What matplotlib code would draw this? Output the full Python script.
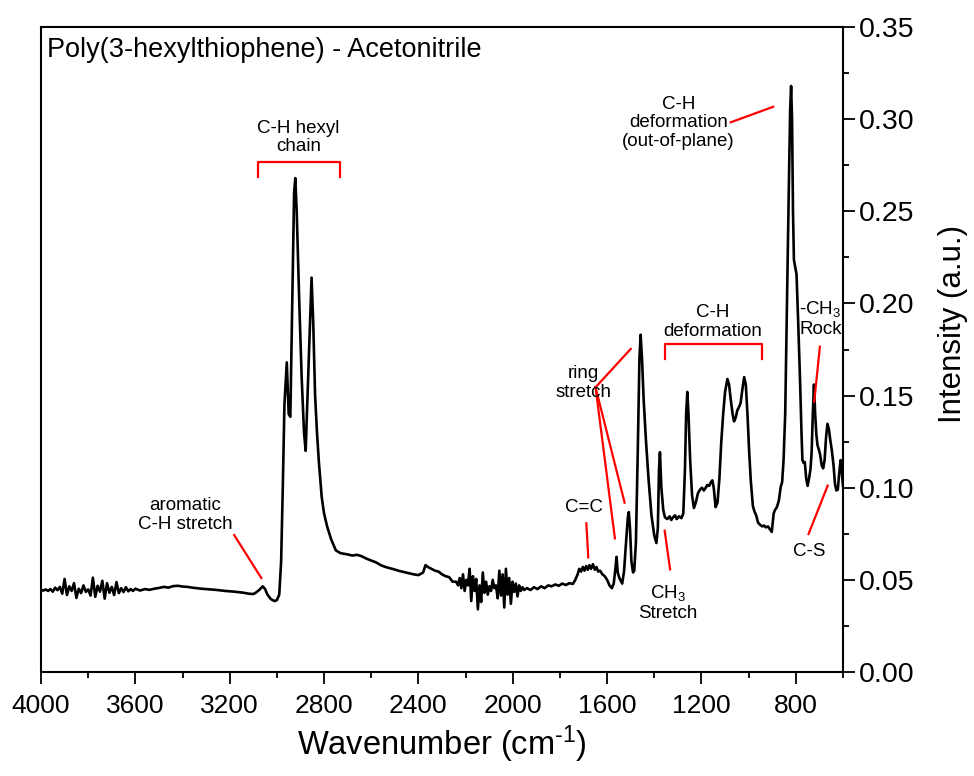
import matplotlib.pyplot as plt
from matplotlib.ticker import MultipleLocator

# FTIR spectrum of P3HT in acetonitrile
wavenumber = [
    4000, 3990, 3980, 3970, 3960, 3950, 3940, 3930, 3920, 3910,
    3900, 3890, 3880, 3870, 3860, 3850, 3840, 3830, 3820, 3810,
    3800, 3790, 3780, 3770, 3760, 3750, 3740, 3730, 3720, 3710,
    3700, 3690, 3680, 3670, 3660, 3650, 3640, 3630, 3620, 3610,
    3600, 3580, 3560, 3540, 3520, 3500, 3480, 3460, 3440, 3420,
    3400, 3380, 3360, 3340, 3320, 3300, 3280, 3260, 3240, 3220,
    3200, 3180, 3160, 3140, 3120, 3100, 3090, 3075, 3060, 3050,
    3040, 3025, 3010, 3000, 2990, 2982, 2975, 2968, 2958, 2950,
    2943, 2935, 2927, 2922, 2916, 2905, 2895, 2885, 2878, 2870,
    2862, 2853, 2846, 2838, 2830, 2822, 2810, 2800, 2787, 2770,
    2750, 2730, 2700, 2680, 2660, 2640, 2620, 2600, 2580, 2560,
    2540, 2520, 2500, 2480, 2460, 2440, 2420, 2400, 2380, 2370,
    2360, 2345, 2330, 2315, 2300, 2285, 2270, 2255,
    2240, 2232, 2225, 2218, 2211, 2204, 2197, 2190, 2183, 2176,
    2169, 2162, 2155, 2148, 2141, 2134, 2127, 2120, 2113, 2106,
    2099, 2092, 2085, 2078, 2071, 2064, 2057, 2050, 2043, 2036,
    2029, 2022, 2015, 2008, 2001, 1994, 1987, 1980, 1973, 1966,
    1959, 1952, 1940, 1925, 1910, 1895, 1880, 1865, 1850, 1835,
    1820, 1805, 1790, 1775, 1760, 1745, 1735, 1725, 1718, 1710,
    1703, 1696, 1689, 1682, 1675, 1668, 1660, 1652, 1645, 1638,
    1630, 1620, 1610, 1600, 1590, 1580, 1572, 1565, 1560, 1555,
    1548, 1540, 1536, 1528, 1520, 1512, 1508, 1503, 1497, 1490,
    1485, 1478, 1470, 1463, 1458, 1452, 1445, 1435, 1424, 1412,
    1400, 1391, 1385, 1380, 1376, 1370, 1362, 1355, 1345, 1335,
    1328, 1320, 1312, 1305, 1295, 1285, 1277, 1270, 1265, 1260,
    1255, 1248, 1240, 1232, 1224, 1215, 1206, 1198, 1190, 1182,
    1175, 1167, 1160, 1154, 1148, 1140, 1132, 1124, 1116, 1108,
    1100, 1090, 1083, 1076, 1068, 1062, 1055, 1048, 1040, 1034,
    1027, 1019, 1012, 1005, 998, 991, 982, 975, 968, 960,
    950, 942, 935, 927, 918, 910, 902, 894, 888, 880,
    872, 864, 858, 852, 845, 838, 830, 824, 820, 816,
    812, 808, 803, 797, 790, 782, 776, 772, 767, 762,
    756, 750, 744, 738, 733, 728, 723, 718, 713, 708,
    703, 697, 690, 684, 678, 672, 666, 660, 654, 647,
    640, 634, 628, 622, 616, 610, 606, 600,
]

intensity = [
    0.0445, 0.0442, 0.0448, 0.0440, 0.0450, 0.0436, 0.0458, 0.0444, 0.0462, 0.0425,
    0.0505, 0.0418, 0.0465, 0.0440, 0.0482, 0.0402, 0.0452, 0.0428, 0.0470, 0.0435,
    0.0448, 0.0415, 0.0512, 0.0408, 0.0468, 0.0436, 0.0495, 0.0398, 0.0482, 0.0430,
    0.0462, 0.0418, 0.0488, 0.0428, 0.0455, 0.0434, 0.0460, 0.0438, 0.0450, 0.0440,
    0.0452, 0.0442, 0.0450, 0.0446, 0.0452, 0.0456, 0.0462, 0.0458, 0.0466, 0.0468,
    0.0464, 0.0462, 0.0458, 0.0455, 0.0452, 0.0450, 0.0448, 0.0446, 0.0443, 0.0440,
    0.0438, 0.0436, 0.0433, 0.0430, 0.0425, 0.0423, 0.0430, 0.0445, 0.0465, 0.0450,
    0.0420, 0.0395, 0.0385, 0.0390, 0.0420, 0.0600, 0.1000, 0.1450, 0.1680, 0.1400,
    0.1385, 0.2000, 0.2600, 0.2680, 0.2500, 0.2000, 0.1600, 0.1300, 0.1200, 0.1500,
    0.1800, 0.2140, 0.1900, 0.1500, 0.1300, 0.1140, 0.0950, 0.0860, 0.0790, 0.0720,
    0.0660, 0.0645, 0.0638, 0.0632, 0.0636, 0.0628, 0.0615, 0.0605, 0.0595, 0.0580,
    0.0570, 0.0563, 0.0556, 0.0548, 0.0542, 0.0536, 0.0530, 0.0526, 0.0540, 0.0580,
    0.0570, 0.0560, 0.0550, 0.0545, 0.0530, 0.0520, 0.0515, 0.0490,
    0.0490, 0.0470, 0.0510, 0.0455, 0.0530, 0.0440, 0.0500, 0.0470, 0.0560, 0.0385,
    0.0520, 0.0440, 0.0505, 0.0340, 0.0470, 0.0380, 0.0540, 0.0430, 0.0490, 0.0420,
    0.0465, 0.0440, 0.0500, 0.0455, 0.0470, 0.0400, 0.0550, 0.0415, 0.0530, 0.0350,
    0.0560, 0.0420, 0.0510, 0.0370, 0.0490, 0.0435, 0.0480, 0.0410, 0.0470, 0.0440,
    0.0460, 0.0445, 0.0455, 0.0445, 0.0460, 0.0450, 0.0465, 0.0455, 0.0470, 0.0465,
    0.0475, 0.0468, 0.0480, 0.0472, 0.0482, 0.0478, 0.0500, 0.0530, 0.0560, 0.0545,
    0.0570, 0.0550, 0.0575, 0.0555, 0.0580, 0.0560, 0.0585, 0.0555, 0.0570, 0.0545,
    0.0550, 0.0530, 0.0520, 0.0500, 0.0470, 0.0455, 0.0480, 0.0560, 0.0625, 0.0540,
    0.0510, 0.0490, 0.0480, 0.0550, 0.0700, 0.0840, 0.0868, 0.0780, 0.0600, 0.0540,
    0.0550, 0.0700, 0.1200, 0.1700, 0.1830, 0.1700, 0.1475, 0.1250, 0.1040, 0.0850,
    0.0740, 0.0700, 0.0780, 0.1100, 0.1193, 0.1000, 0.0880, 0.0840, 0.0830, 0.0845,
    0.0825, 0.0840, 0.0850, 0.0830, 0.0845, 0.0835, 0.0860, 0.1100, 0.1400, 0.1520,
    0.1400, 0.1150, 0.0960, 0.0890, 0.0920, 0.0970, 0.0990, 0.1000, 0.0985, 0.1000,
    0.1015, 0.1010, 0.1030, 0.1040, 0.1000, 0.0895, 0.0920, 0.1050, 0.1250, 0.1400,
    0.1520, 0.1590, 0.1560, 0.1480, 0.1400, 0.1360, 0.1380, 0.1420, 0.1440, 0.1460,
    0.1530, 0.1600, 0.1560, 0.1400, 0.1200, 0.1040, 0.0900, 0.0870, 0.0850, 0.0810,
    0.0797, 0.0790, 0.0795, 0.0785, 0.0790, 0.0775, 0.0760, 0.0860, 0.0880, 0.0895,
    0.0930, 0.1005, 0.1030, 0.1150, 0.1400, 0.1965, 0.2600, 0.3050, 0.3180, 0.3000,
    0.2500, 0.2236, 0.2200, 0.2158, 0.1900, 0.1580, 0.1300, 0.1150, 0.1135, 0.1140,
    0.1050, 0.1010, 0.1050, 0.1100, 0.1190, 0.1400, 0.1560, 0.1400, 0.1290, 0.1230,
    0.1210, 0.1180, 0.1120, 0.1105, 0.1150, 0.1270, 0.1347, 0.1320, 0.1260, 0.1200,
    0.1120, 0.1020, 0.0985, 0.0990, 0.1080, 0.1150, 0.1100, 0.1010,
]

# peak labels: text and its centre
label_texts = ["aromatic\nC-H stretch", "C-H hexyl\nchain", "C=C", "ring\nstretch",
               "CH$_3$\nStretch", "C-H\ndeformation", "C-H\ndeformation\n(out-of-plane)",
               "-CH$_3$\nRock", "C-S"]
label_x = [3389, 2909, 1700, 1700, 1343, 1152, 1297, 696, 745]
label_y = [0.0852, 0.290, 0.089, 0.1568, 0.0377, 0.190, 0.298, 0.1918, 0.0655]

# straight red pointer lines (x0, x1), (y0, y1)
pointer_x = [(3181, 3066), (1688, 1680), (1649, 1500), (1649, 1567), (1649, 1526),
             (1356, 1333), (1076, 896), (698, 722), (665, 746)]
pointer_y = [(0.0743, 0.051), (0.0807, 0.0622), (0.1545, 0.1753), (0.1545, 0.0725),
             (0.1545, 0.0919), (0.0767, 0.0557), (0.2983, 0.3067), (0.1765, 0.1467),
             (0.1011, 0.0749)]

# square brackets over a band: left edge, right edge, top, bottom
bracket_left = [3082, 1355]
bracket_right = [2734, 944]
bracket_top = [0.2769, 0.178]
bracket_bottom = [0.2687, 0.1697]

plt.rcParams["font.family"] = ["Liberation Sans", "DejaVu Sans"]
plt.rcParams["mathtext.fontset"] = "custom"
plt.rcParams["mathtext.rm"] = "Liberation Sans"
plt.rcParams["mathtext.it"] = "Liberation Sans:italic"


def draw_spectrum(filename):
    fig = plt.figure(figsize=(9.74, 7.76), dpi=100)
    ax = fig.add_axes([0.0421, 0.134, 0.8234, 0.8312])

    ax.plot(wavenumber, intensity, color="black", lw=1.9)

    # red brackets and pointers
    for i in range(len(bracket_left)):
        ax.plot([bracket_left[i], bracket_left[i], bracket_right[i], bracket_right[i]],
                [bracket_bottom[i], bracket_top[i], bracket_top[i], bracket_bottom[i]],
                color="red", lw=1.6)
    for i in range(len(pointer_x)):
        ax.plot(pointer_x[i], pointer_y[i], color="red", lw=1.6)

    for i in range(len(label_texts)):
        ax.text(label_x[i], label_y[i], label_texts[i], ha="center", va="center",
                fontsize=13.5, linespacing=1.1)

    ax.text(0.008, 0.985, "Poly(3-hexylthiophene) - Acetonitrile", transform=ax.transAxes,
            ha="left", va="top", fontsize=19.5)

    # axes: reversed wavenumber, intensity on the right
    ax.set_xlim(4000, 600)
    ax.set_ylim(0, 0.35)
    ax.xaxis.set_major_locator(MultipleLocator(400))
    ax.xaxis.set_minor_locator(MultipleLocator(200))
    ax.yaxis.set_major_locator(MultipleLocator(0.05))
    ax.yaxis.set_minor_locator(MultipleLocator(0.025))
    ax.yaxis.tick_right()
    ax.yaxis.set_label_position("right")
    ax.yaxis.set_major_formatter(plt.FormatStrFormatter("%.2f"))
    ax.tick_params(which="major", length=8.5, width=1.3, direction="out")
    ax.tick_params(which="minor", length=4.5, width=1.3, direction="out")
    ax.tick_params(axis="x", pad=7, labelsize=19)
    ax.tick_params(axis="y", pad=3, labelsize=20.5)
    for spine in ax.spines.values():
        spine.set_linewidth(1.5)

    ax.set_xlabel("Wavenumber (cm$^{\\text{-1}}$)", fontsize=23.5, labelpad=4)
    ax.set_ylabel("Intensity (a.u.)", fontsize=22.5)
    ax.yaxis.set_label_coords(1.119, 0.54)

    plt.savefig(filename)


draw_spectrum("out.png")
